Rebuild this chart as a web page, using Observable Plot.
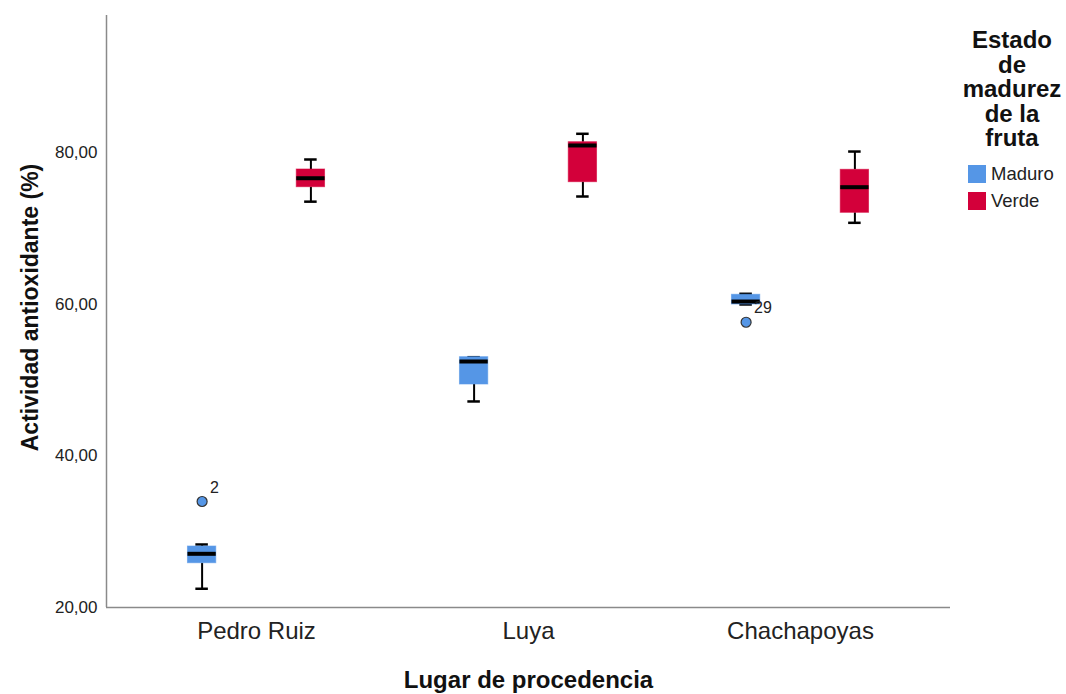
<!DOCTYPE html>
<html><head><meta charset="utf-8">
<script src="https://cdn.jsdelivr.net/npm/d3@7"></script>
<script src="https://cdn.jsdelivr.net/npm/@observablehq/plot@0.6"></script>
<style>
body{margin:0;background:#fff;}
#wrap{position:relative;width:1066px;height:694px;font-family:"Liberation Sans",Arial,sans-serif;color:#111;}
#legTitle{position:absolute;left:952px;top:28px;width:120px;text-align:center;font-weight:bold;font-size:24px;line-height:24.5px;}
.item{position:absolute;left:968px;height:18px;display:flex;align-items:center;font-size:18.5px;color:#222;}
.sw{width:18px;height:18px;margin-right:5px;}
</style></head><body><div id="wrap"></div>
<script>
// Categories
const lugares = ["Pedro Ruiz", "Luya", "Chachapoyas"];
const estados = ["Maduro", "Verde"];
const colores = ["#5596e6", "#d3003a"];
// Box summaries (one entry per box)
const boxLugar  = ["Pedro Ruiz", "Pedro Ruiz", "Luya", "Luya", "Chachapoyas", "Chachapoyas"];
const boxEstado = ["Maduro", "Verde", "Maduro", "Verde", "Maduro", "Verde"];
const bigoteInf = [22.47, 73.52, 47.17, 74.20, 59.96, 70.73];
const q1        = [25.84, 75.43, 49.41, 76.09, 59.96, 72.05];
const mediana   = [27.08, 76.61, 52.44, 80.93, 60.35, 75.43];
const q3        = [28.04, 77.76, 53.01, 81.36, 61.24, 77.72];
const bigoteSup = [28.31, 79.08, 53.01, 82.47, 61.37, 80.13];
// Outliers
const atipLugar    = ["Pedro Ruiz", "Chachapoyas"];
const atipEstado   = ["Maduro", "Maduro"];
const atipValor    = [33.98, 57.62];
const atipEtiqueta = ["2", "29"];
// Axis ticks
const yTicks = [20, 40, 60, 80];
const yDom = [20, 98.07];

const xDom = [-0.5515, lugares.length - 1 + 0.5515];
const offset = {Maduro: -0.2, Verde: 0.2};
const halfBox = 0.052, halfCap = 0.023;
const pos = (l, e) => lugares.indexOf(l) + offset[e];

const boxes = boxLugar.map((l, i) => ({lugar: l, estado: boxEstado[i], lo: bigoteInf[i], q1: q1[i], med: mediana[i], q3: q3[i], hi: bigoteSup[i], p: pos(l, boxEstado[i])}));
const atip = atipLugar.map((l, i) => ({lugar: l, estado: atipEstado[i], v: atipValor[i], lab: atipEtiqueta[i], p: pos(l, atipEstado[i])}));
const fmt = d => d3.format(".2f")(d).replace(".", ",");

const chart = Plot.plot({
  width: 1066, height: 694,
  marginLeft: 106, marginRight: 116, marginTop: 15, marginBottom: 87,
  style: {fontFamily: "'Liberation Sans', Arial, sans-serif", background: "white", color: "#222"},
  x: {domain: xDom, axis: null},
  y: {domain: yDom, axis: null},
  color: {domain: estados, range: colores},
  marks: [
    Plot.axisY(yTicks, {tickSize: 0, tickPadding: 9, fontSize: 17, tickFormat: fmt, label: null}),
    Plot.axisX([0, 1, 2], {tickSize: 0, tickPadding: 14, fontSize: 24, tickFormat: i => lugares[i], label: null}),
    Plot.ruleX([xDom[0]], {y1: yDom[0], y2: yDom[1], stroke: "#8a8a8a", strokeWidth: 1.5}),
    Plot.ruleY([yDom[0]], {stroke: "#8a8a8a", strokeWidth: 1.5}),
    // whiskers
    Plot.ruleX(boxes, {x: "p", y1: "lo", y2: "q1", stroke: "black", strokeWidth: 2}),
    Plot.ruleX(boxes, {x: "p", y1: "q3", y2: "hi", stroke: "black", strokeWidth: 2}),
    Plot.ruleY(boxes, {y: "lo", x1: d => d.p - halfCap, x2: d => d.p + halfCap, stroke: "black", strokeWidth: 2.5}),
    Plot.ruleY(boxes, {y: "hi", x1: d => d.p - halfCap, x2: d => d.p + halfCap, stroke: "black", strokeWidth: 2.5}),
    // boxes
    Plot.rect(boxes, {x1: d => d.p - halfBox, x2: d => d.p + halfBox, y1: "q1", y2: "q3", fill: "estado", stroke: "estado", strokeOpacity: 0.6, strokeWidth: 1}),
    // medians
    Plot.ruleY(boxes, {y: "med", x1: d => d.p - halfBox, x2: d => d.p + halfBox, stroke: "black", strokeWidth: 4}),
    // outliers
    Plot.dot(atip, {x: "p", y: "v", r: 5, fill: "estado", stroke: "#333", strokeWidth: 1.2}),
    Plot.text(atip, {x: "p", y: "v", text: "lab", dx: 8, dy: -14, textAnchor: "start", fontSize: 16, fill: "#222"}),
    // titles
    Plot.text(["Lugar de procedencia"], {frameAnchor: "bottom", lineAnchor: "middle", dy: 73, fontSize: 24, fontWeight: "bold", fill: "#111"}),
    Plot.text(["Actividad antioxidante (%)"], {frameAnchor: "left", textAnchor: "middle", lineAnchor: "middle", rotate: -90, dy: -4, dx: -76, fontSize: 23, fontWeight: "bold", fill: "#111"})
  ]
});

const wrap = document.getElementById("wrap");
wrap.appendChild(chart);
const lt = document.createElement("div");
lt.id = "legTitle";
lt.innerHTML = "Estado<br>de<br>madurez<br>de la<br>fruta";
wrap.appendChild(lt);
estados.forEach((e, i) => {
  const it = document.createElement("div");
  it.className = "item";
  it.style.top = (165 + i * 26.5) + "px";
  it.innerHTML = `<span class="sw" style="background:${colores[i]}"></span>${e}`;
  wrap.appendChild(it);
});
</script></body></html>
